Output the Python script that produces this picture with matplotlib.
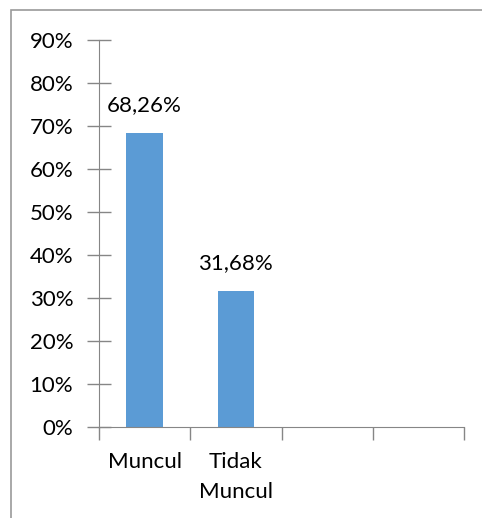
import matplotlib.pyplot as plt
from matplotlib.patches import Rectangle

plt.rcParams['font.family'] = ['Lato', 'DejaVu Sans']

categories = ['Muncul', 'Tidak\nMuncul', '', '']
values = [68.26, 31.68]
labels = ['68,26%', '31,68%']
yticks = list(range(0, 100, 10))

grey = '#868686'
fs = 16
fig = plt.figure(figsize=(4.82, 5.18), dpi=100)
ax = fig.add_axes([99 / 482, 1 - 427 / 518, 365 / 482, 387 / 518])

x = list(range(len(categories)))
ax.bar(x[:len(values)], values, width=0.4, color='#5B9BD5')
for xi, v, lab in zip(x, values, labels):
    ax.text(xi, v + 4.2, lab, ha='center', va='bottom', fontsize=fs)

ax.set_xlim(-0.5, len(categories) - 0.5)
ax.set_ylim(0, 90)
ax.set_yticks(yticks)
ax.set_yticklabels([f'{t}%' for t in yticks], fontsize=fs)
ax.tick_params(axis='y', direction='inout', length=17, color=grey, width=1, pad=10)

# category boundaries as tick marks on the x axis
ax.set_xticks([i - 0.5 for i in range(len(categories) + 1)])
ax.set_xticklabels([])
ax.tick_params(axis='x', direction='out', length=9, color=grey, width=1)
for xi, c in zip(x, categories):
    ax.text(xi, -5.8, c, ha='center', va='top', fontsize=fs, linespacing=1.6)

for s in ['top', 'right']:
    ax.spines[s].set_visible(False)
for s in ['left', 'bottom']:
    ax.spines[s].set_color(grey)

# chart area border
fig.add_artist(Rectangle((11 / 482, -0.1), 1.1, 1 - 10 / 518 + 0.1,
                         transform=fig.transFigure, fill=False,
                         edgecolor='#9a9a9a', linewidth=1.2))

fig.savefig('out.png', dpi=100)
